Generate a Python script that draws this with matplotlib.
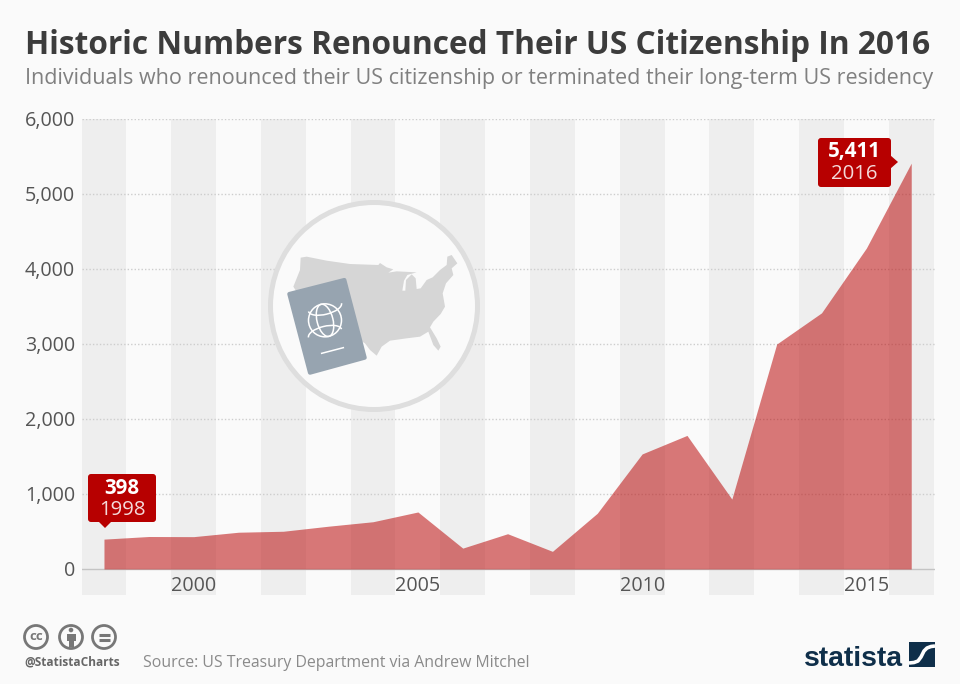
import matplotlib
matplotlib.use("Agg")
import matplotlib.pyplot as plt
from matplotlib.patches import Arc, Circle, Ellipse, FancyBboxPatch, Polygon

years = [1998, 1999, 2000, 2001, 2002, 2003, 2004, 2005, 2006, 2007, 2008, 2009,
         2010, 2011, 2012, 2013, 2014, 2015, 2016]
renounced = [398, 433, 431, 490, 503, 570, 630, 760, 278, 470, 235, 743,
             1534, 1781, 932, 2999, 3415, 4279, 5411]
y_ticks = [0, 1000, 2000, 3000, 4000, 5000, 6000]
x_ticks = [2000, 2005, 2010, 2015]
band_years = [1998, 2000, 2002, 2004, 2006, 2008, 2010, 2012, 2014, 2016]

title = "Historic Numbers Renounced Their US Citizenship In 2016"
subtitle = "Individuals who renounced their US citizenship or terminated their long-term US residency"
source = "Source: US Treasury Department via Andrew Mitchel"

BG = "#fafafa"
RED = "#b80000"
DARK_RED = "#b70000"
GREY_TEXT = "#555555"
NAVY = "#0f2f4a"

plt.rcParams["font.family"] = ["Open Sans", "DejaVu Sans"]


def px(x, y):
    return (250 + x / 3, 190 + y / 3)


def draw_icon(ov):
    ov.add_patch(Circle((374, 306), 103.5, fc=BG, ec="#dedede", lw=3.6, zorder=3))
    usa = [(152, 203), (170, 200), (230, 212), (300, 222), (385, 225), (390, 219),
           (410, 232), (430, 238), (415, 248), (440, 244), (500, 247), (472, 255),
           (462, 272), (457, 302), (466, 302), (468, 270), (485, 253), (497, 265),
           (500, 297), (512, 295), (530, 270), (548, 262), (570, 240), (590, 225),
           (592, 200), (605, 195), (622, 220), (605, 235), (610, 255), (588, 280),
           (578, 310), (585, 350), (572, 372), (550, 395), (540, 412), (560, 445),
           (572, 470), (565, 482), (550, 465), (535, 425), (510, 440), (470, 445),
           (420, 452), (395, 470), (380, 497), (360, 480), (345, 460), (320, 445),
           (200, 400), (130, 290), (150, 240)]
    ov.add_patch(Polygon([px(*p) for p in usa], fc="#d6d6d6", ec="none", zorder=4))
    cover = [(118, 312), (283, 270), (344, 503), (180, 548)]
    ov.add_patch(Polygon([px(*p) for p in cover], fc="#97a4b0", ec="#97a4b0", lw=3,
                         joinstyle="round", zorder=5))
    cx, cy = px(225, 391)
    globe = dict(fc="none", ec="white", lw=1.1, zorder=6)
    ov.add_patch(Circle((cx, cy), 16.5, **globe))
    ov.add_patch(Ellipse((cx, cy), 16, 33, angle=-14, **globe))
    ov.add_patch(Arc((cx, cy - 13), 34, 14, angle=-14, theta1=0, theta2=180, **globe))
    ov.add_patch(Arc((cx, cy + 13), 34, 14, angle=-14, theta1=180, theta2=360, **globe))
    ov.plot(*zip(px(215, 490), px(280, 473)), color="white", lw=1.1, zorder=6)


def draw_callout(ov, box, tip, value, year):
    x0, y0, x1, y1 = box
    ov.add_patch(FancyBboxPatch((x0 + 3, y0 + 3), x1 - x0 - 6, y1 - y0 - 6,
                                boxstyle="round,pad=3,rounding_size=3",
                                fc=DARK_RED, ec="none", zorder=8))
    ov.add_patch(Polygon(tip, fc=DARK_RED, ec="none", zorder=8))
    xm = (x0 + x1) / 2
    ov.text(xm, y0 + 14, value, color="white", fontsize=14.8, fontweight="bold",
            ha="center", va="center", zorder=9)
    ov.text(xm, y0 + 36, year, color="#f4dada", fontsize=14.7,
            ha="center", va="center", zorder=9)


def draw_footer(ov):
    for x in (36, 71, 104):
        ov.add_patch(Circle((x, 637), 11.5, fc="none", ec="#777777", lw=2))
    ov.text(36, 636.5, "cc", color="#777777", fontsize=9.5, fontweight="bold",
            ha="center", va="center")
    ov.add_patch(Circle((71, 630), 2.3, fc="#777777", ec="none"))
    ov.add_patch(Polygon([(66.5, 634), (75.5, 634), (75.5, 641), (73.5, 641), (73.5, 647),
                          (68.5, 647), (68.5, 641), (66.5, 641)], fc="#777777", ec="none"))
    for y in (634.5, 639.5):
        ov.plot([98.5, 109.5], [y, y], color="#777777", lw=2.2, solid_capstyle="butt")
    ov.text(24, 662, "@StatistaCharts", color="#666666", fontsize=8.6, fontweight="bold",
            ha="left", va="center")
    ov.text(143, 667, source, color="#8a8a8a", fontsize=11.45, ha="left", va="baseline")


def draw_logo(ov):
    ov.text(804, 666, "statista", color=NAVY, fontsize=20.3, fontweight="bold",
            family=["Liberation Sans", "Open Sans"], ha="left", va="baseline")
    ov.add_patch(Polygon([(909, 642), (935, 642), (935, 667), (909, 667)], fc=NAVY, ec="none"))
    ov.plot([909, 914, 918, 921, 924, 927, 931, 935], [663, 662.5, 661, 657, 651, 648, 646.5, 646],
            color="white", lw=2.6, solid_capstyle="butt")


def main():
    fig = plt.figure(figsize=(9.6, 6.84), dpi=100, facecolor=BG)
    # plot frame runs from y=119 to y=595, the bands carry on below the zero line
    ax = fig.add_axes([82 / 960, 1 - 595 / 684, 853 / 960, 476 / 684], facecolor=BG)
    ax.set_xlim(1997.51, 2016.53)
    ax.set_ylim(-347, 6000)

    for yr in band_years:
        ax.axvspan(yr - 0.5, yr + 0.5, color="#eeeeee", lw=0, zorder=1)
    for v in y_ticks[1:]:
        ax.axhline(v, color="#cdcdcd", lw=1, ls=(0, (1, 1.5)), zorder=2)
    ax.axhline(0, color="#c4c4c4", lw=1, zorder=2)

    ax.fill_between(years, renounced, 0, color=RED, alpha=0.52, lw=0, zorder=3)

    for s in ax.spines.values():
        s.set_visible(False)
    ax.set_yticks(y_ticks)
    ax.set_yticklabels([f"{v:,}" for v in y_ticks])
    ax.set_xticks(x_ticks)
    ax.tick_params(axis="y", length=0, pad=5, labelsize=14.2, labelcolor=GREY_TEXT)
    ax.tick_params(axis="x", length=0, pad=-14, labelsize=14.2, labelcolor=GREY_TEXT)

    ov = fig.add_axes([0, 0, 1, 1], facecolor="none")
    ov.set_xlim(0, 960)
    ov.set_ylim(684, 0)
    ov.axis("off")

    fig.text(25 / 960, 1 - 54 / 684, title, color="#3c3c3c", fontsize=22.77, fontweight="bold",
             ha="left", va="baseline")
    fig.text(25 / 960, 1 - 84 / 684, subtitle, color="#808080", fontsize=15.47,
             ha="left", va="baseline")

    draw_icon(ov)
    draw_callout(ov, (88, 474, 156, 522), [(98, 521), (112, 521), (105, 528)], "398", "1998")
    draw_callout(ov, (818, 138, 891, 187), [(890, 155), (890, 169), (898, 162)], "5,411", "2016")
    draw_footer(ov)
    draw_logo(ov)

    fig.savefig("out.png", dpi=100, facecolor=BG)


if __name__ == "__main__":
    main()
